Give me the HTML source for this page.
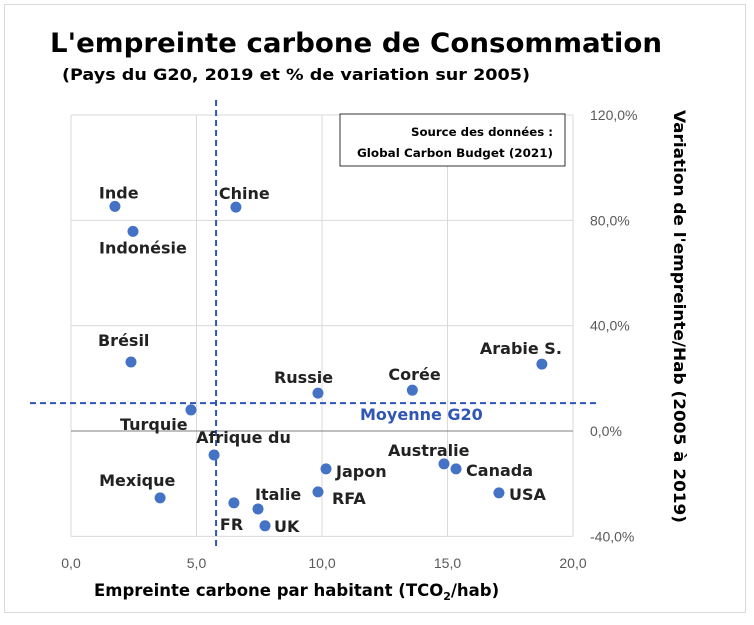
<!DOCTYPE html>
<html><head><meta charset="utf-8">
<style>
body{margin:0;background:#fff;font-family:"DejaVu Sans","Liberation Sans",sans-serif;}
svg text{font-family:"DejaVu Sans","Liberation Sans",sans-serif;}
svg text.tick{font-family:"Liberation Sans",sans-serif;}
</style></head>
<body>
<svg width="754" height="621">
<rect x="4.5" y="4.5" width="741" height="608" fill="#fff" stroke="#d9d9d9"/>
<text x="50" y="52" font-size="27" font-weight="bold" fill="#000" textLength="612" lengthAdjust="spacingAndGlyphs">L'empreinte carbone de Consommation</text>
<text x="62" y="80" font-size="16" font-weight="bold" fill="#000" textLength="468" lengthAdjust="spacingAndGlyphs">(Pays du G20, 2019 et % de variation sur 2005)</text>
<g id="grid"></g>
<g id="marks"></g>
<rect x="340" y="114" width="225" height="52" fill="#fff" stroke="#000" stroke-width="0.8"/>
<text x="553" y="136" font-size="11.5" font-weight="bold" text-anchor="end" textLength="142" lengthAdjust="spacingAndGlyphs">Source des données :</text>
<text x="553" y="157" font-size="11.5" font-weight="bold" text-anchor="end" textLength="196" lengthAdjust="spacingAndGlyphs">Global Carbon Budget (2021)</text>
<text x="94" y="596" font-size="16.5" font-weight="bold">Empreinte carbone par habitant (TCO<tspan font-size="11" dy="4">2</tspan><tspan dy="-4">/hab)</tspan></text>
<text transform="translate(674,110) rotate(90)" font-size="16" font-weight="bold" textLength="413" lengthAdjust="spacingAndGlyphs">Variation de l'empreinte/Hab (2005 à 2019)</text>
</svg>
<script>
const countries=["Inde","Indonésie","Chine","Brésil","Russie","Corée","Arabie S.","Turquie","Afrique du","Mexique","FR","Italie","UK","Japon","RFA","Australie","Canada","USA"];
const emissions=[1.75,2.47,6.57,2.39,9.84,13.6,18.76,4.78,5.7,3.55,6.49,7.45,7.73,10.16,9.84,14.86,15.34,17.05];
const variation=[85.3,75.8,85,26.2,14.4,15.5,25.4,8.0,-9.1,-25.4,-27.3,-29.6,-36,-14.4,-23.1,-12.5,-14.4,-23.5];
const xTicks=[0,5,10,15,20];
const xTickLabels=["0,0","5,0","10,0","15,0","20,0"];
const yTicks=[120,80,40,0,-40];
const yTickLabels=["120,0%","80,0%","40,0%","0,0%","-40,0%"];
const meanX=[5.78];
const meanY=[10.6];
const labelOffsets={"Inde":[-16,-8,"start"],"Indonésie":[-34,22,"start"],"Chine":[-17,-8,"start"],"Brésil":[-33,-16,"start"],"Russie":[-44,-10,"start"],"Corée":[-24,-10,"start"],"Arabie S.":[-62,-10,"start"],"Turquie":[-71,20,"start"],"Afrique du":[-18,-12,"start"],"Mexique":[-61,-12,"start"],"FR":[-14,27,"start"],"Italie":[-3,-9,"start"],"UK":[9,6,"start"],"Japon":[10,8,"start"],"RFA":[14,12,"start"],"Australie":[-56,-8,"start"],"Canada":[10,7,"start"],"USA":[10,7,"start"]};
const X=v=>71+v*(573-71)/20;
const Y=v=>431-v*(431-115)/120;
const NS="http://www.w3.org/2000/svg";
const grid=document.getElementById('grid'),marks=document.getElementById('marks');
function mk(tag,attrs,parent){const e=document.createElementNS(NS,tag);for(const k in attrs)e.setAttribute(k,attrs[k]);parent.appendChild(e);return e;}
xTicks.forEach((t,i)=>{
 const l=mk('line',{x1:X(t),x2:X(t),y1:Y(120),y2:Y(-40),stroke:'#d9d9d9'},grid);
 
 
 const tx=mk('text',{x:X(t),y:568,'font-size':14,'text-anchor':'middle',fill:'#595959',class:'tick'},grid);tx.textContent=xTickLabels[i];
 
 
});
yTicks.forEach((t,i)=>{
 const l=mk('line',{x1:X(0),x2:X(20),y1:Y(t),y2:Y(t),stroke:t===0?'#7f7f7f':'#d9d9d9'},grid);
 
 
 const tx=mk('text',{x:590,y:Y(t)+5,'font-size':14,fill:'#595959',class:'tick'},grid);tx.textContent=yTickLabels[i];
 
 
});
const mv=mk('line',{x1:X(meanX[0]),x2:X(meanX[0]),y1:100,y2:548,stroke:'#2f55b5','stroke-width':2,'stroke-dasharray':'6,4'},marks);


const mh=mk('line',{x1:30,x2:598,y1:Y(meanY[0]),y2:Y(meanY[0]),stroke:'#2f55b5','stroke-width':2,'stroke-dasharray':'6,4'},marks);


const ml=mk('text',{x:360,y:Y(meanY[0])+17,'font-size':16,'font-weight':'bold',fill:'#2f55b5'},marks);ml.textContent='Moyenne G20';


countries.forEach((c,i)=>{
 const cx=X(emissions[i]),cy=Y(variation[i]);
 const p=mk('circle',{cx:cx,cy:cy,r:5.5,fill:'#4472c4'},marks);
 
 
 const o=labelOffsets[c]||[8,-8,'start'];
 const t=mk('text',{x:cx+o[0],y:cy+o[1],'font-size':16,'font-weight':'bold',fill:'#222','text-anchor':o[2]},marks);t.textContent=c;
 
 
});
</script>
</body></html>
